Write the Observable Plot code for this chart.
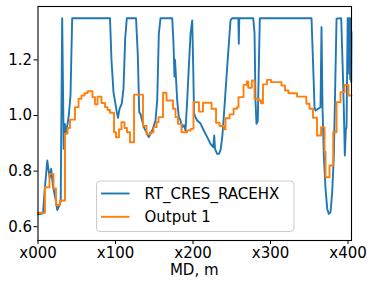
<!DOCTYPE html>
<html><head><meta charset="utf-8">
<script src="https://cdn.jsdelivr.net/npm/d3@7"></script>
<script src="https://cdn.jsdelivr.net/npm/@observablehq/plot@0.6"></script>
<style>html,body{margin:0;padding:0;background:#fff;} #chart{width:374px;height:287px;}</style>
</head><body><div id="chart"></div>
<script>
const seriesNames = ["RT_CRES_RACEHX", "Output 1"];
const seriesColors = ["#1f77b4", "#ff7f0e"];
const blueMd = [0,6.5,8.4,12.0,15.1,17.0,19.4,22.6,24.9,26.8,29.3,31.2,33.2,34.6,36.4,37.8,39.7,41.9,44.1,
  92.9,94.8,97.4,101.7,103.2,105.2,108.1,110.3,112.5,114.6,126.5,128.8,130.6,132.3,136.5,140.9,143.0,147.4,151.6,153.8,155.9,158.1,
  173.2,174.8,176.1,176.8,179.6,181.7,183.9,186.1,188.4,190.3,192.5,194.6,196.8,199.0,200.3,201.3,203.2,205.4,209.7,213.9,218.3,222.6,226.1,227.4,228.4,231.2,233.5,235.5,237.7,239.7,244.1,248.4,250.6,
  258.5,259.1,259.7,277.7,279.4,280.6,281.9,283.6,284.9,286.2,
  352.9,355.1,356.8,358.1,364.5,365.8,367.1,368.8,371.0,373.2,375.2,377.4,379.6,381.7,383.0,385.2,391.2,393.3,394.6,395.9,397.2,398.1,399.0,399.6,400.3,400.9,401.5,402.2,402.8,403.5,404.1,404.5];
const blueVal = [0.645,0.648,0.724,0.838,0.775,0.808,0.745,0.70,0.66,0.672,0.69,1.35,0.88,0.97,0.935,0.964,1.0,1.07,1.35,
  1.35,1.2,1.084,1.012,0.992,1.024,1.043,1.096,1.276,1.35,1.35,1.216,1.012,1.005,0.958,0.934,0.922,0.946,0.982,1.054,1.294,1.35,
  1.35,1.26,1.14,1.2,1.054,0.994,0.982,0.958,0.965,0.946,1.054,1.174,1.294,1.342,1.17,1.007,0.994,0.982,0.971,0.946,0.922,0.898,0.886,0.928,0.88,0.862,0.862,0.875,0.92,0.994,1.174,1.342,1.35,
  1.35,1.258,1.35,1.35,1.295,1.054,0.97,0.98,1.174,1.35,
  1.35,1.174,1.03,1.018,1.03,1.318,1.03,0.856,0.736,0.664,0.646,0.652,0.724,0.856,1.036,1.348,1.35,1.156,1.024,0.856,0.95,0.958,1.2,1.35,1.18,1.35,1.15,1.35,1.13,1.35,1.12,1.3];
const orangeMd = [0,9.0,14.8,20.0,23.2,28.4,34.8,38.1,41.3,47.7,52.3,56.1,60.0,63.9,70.3,73.5,76.8,81.9,86.5,89.7,92.9,98.1,100.6,104.5,107.7,111.6,114.8,118.7,123.9,
  135.5,140.0,144.5,149.0,152.9,155.5,161.3,165.8,174.2,177.4,180.6,185.2,192.3,196.8,200.6,207.7,212.9,223.9,229.7,234.2,240.0,241.9,247.1,252.3,256.8,258.7,265.2,269.4,271.2,275.9,279.4,284.9,287.7,290.3,295.5,300.6,314.2,318.7,323.2,334.2,346.2,350.3,354.8,360.0,365.2,369.7,371.0,376.1,380.9,385.2,390.3,395.5,400.6,404.5];
const orangeVal = [0.65,0.742,0.79,0.738,0.678,0.694,0.935,0.955,0.985,1.03,1.06,1.072,1.08,1.087,1.066,1.04,1.068,1.045,1.03,1.02,1.01,0.94,0.922,0.95,0.976,0.955,0.94,0.904,1.075,
  0.962,0.932,0.94,0.958,0.976,0.994,1.082,1.054,1.024,0.994,0.97,0.94,0.946,0.952,1.048,1.014,1.046,1.024,0.974,0.962,0.95,0.99,1.004,1.024,1.03,1.066,1.11,1.122,1.1,1.126,1.06,1.054,1.044,1.112,1.128,1.12,1.108,1.09,1.08,1.068,1.042,1.024,0.992,0.928,0.958,0.87,0.778,0.82,0.94,1.048,1.084,1.11,1.072,1.072];
const xTicks = [0, 100, 200, 300, 400];
const xTickLabels = ["x000", "x100", "x200", "x300", "x400"];
const yTicks = [0.6, 0.8, 1.0, 1.2];
const xLabel = "MD, m";

const blue = blueMd.map((d, i) => ({md: d, v: blueVal[i]}));
const orange = orangeMd.map((d, i) => ({md: d, v: orangeVal[i]}));

const chart = Plot.plot({
  width: 374, height: 287,
  marginLeft: 37.5, marginRight: 23, marginTop: 6, marginBottom: 47,
  x: {domain: [0, 404.5]},
  y: {domain: [0.5504, 1.392]},
  style: {fontFamily: "DejaVu Sans", fontSize: "15px", color: "black", background: "white"},
  marks: [
    Plot.line(blue, {x: "md", y: "v", stroke: seriesColors[0], strokeWidth: 1.9}),
    Plot.line(orange, {x: "md", y: "v", stroke: seriesColors[1], strokeWidth: 1.9, curve: "step-after"}),
    Plot.frame({stroke: "black", strokeWidth: 1.1}),
    Plot.axisX({ticks: xTicks, tickFormat: d => xTickLabels[xTicks.indexOf(d)], tickSize: 4, tickPadding: 3, label: null}),
    Plot.axisY({ticks: yTicks, tickFormat: d => d.toFixed(1), tickSize: 4, tickPadding: 2, label: null})
  ]
});
document.getElementById("chart").appendChild(chart);

const svg = d3.select(chart);
svg.append("text").attr("x", 194.25).attr("y", 274.5).attr("text-anchor", "middle")
  .attr("font-family", "DejaVu Sans").attr("font-size", 15).attr("fill", "black").text(xLabel);
const lg = svg.append("g");
lg.append("rect").attr("x", 96.5).attr("y", 181).attr("width", 197.5).attr("height", 50.5)
  .attr("rx", 3.5).attr("fill", "white").attr("fill-opacity", 0.8).attr("stroke", "#cccccc");
seriesNames.forEach((name, i) => {
  const cy = 193.5 + i * 23.3;
  lg.append("line").attr("x1", 101).attr("x2", 129.5).attr("y1", cy).attr("y2", cy)
    .attr("stroke", seriesColors[i]).attr("stroke-width", 1.9);
  lg.append("text").attr("x", 144.5).attr("y", cy + 5.3).attr("text-anchor", "start")
    .attr("font-family", "DejaVu Sans").attr("font-size", 15).attr("fill", "black").text(name);
});
</script>
</body></html>
